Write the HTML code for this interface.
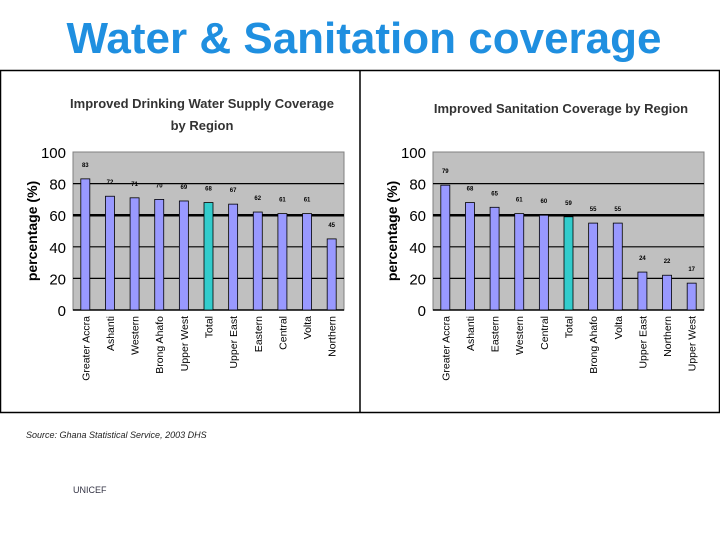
<!DOCTYPE html>
<html><head><meta charset="utf-8"><style>
body{margin:0;background:#fff;width:720px;height:540px;overflow:hidden;font-family:"Liberation Sans",sans-serif}
</style></head><body>
<svg width="720" height="540" xmlns="http://www.w3.org/2000/svg" font-family="Liberation Sans, sans-serif" id="svg">
<text x="364" y="53" text-anchor="middle" font-size="44" font-weight="bold" fill="#1f8fe0">Water &amp; Sanitation coverage</text>
<rect x="0.5" y="70.5" width="719" height="342" fill="#fff" stroke="#000" stroke-width="1.5"/>
<line x1="360" y1="71" x2="360" y2="412" stroke="#000" stroke-width="1.5"/>
<text x="202" y="108" text-anchor="middle" font-size="13" font-weight="bold" fill="#333">Improved Drinking Water Supply Coverage</text>
<text x="202" y="130" text-anchor="middle" font-size="13" font-weight="bold" fill="#333">by Region</text>
<text x="561" y="113" text-anchor="middle" font-size="13" font-weight="bold" fill="#333">Improved Sanitation Coverage by Region</text>
<text x="26" y="438" font-size="9" font-style="italic" fill="#222">Source:  Ghana Statistical Service, 2003 DHS</text>
<text x="73" y="493" font-size="9" fill="#334">UNICEF</text>
<g id="c1"></g><g id="c2"></g>
</svg>
<script>
const ticks=[0,20,40,60,80,100];
const waterCats=["Greater Accra","Ashanti","Western","Brong Ahafo","Upper West","Total","Upper East","Eastern","Central","Volta","Northern"];
const waterVals=[83,72,71,70,69,68,67,62,61,61,45];
const sanCats=["Greater Accra","Ashanti","Eastern","Western","Central","Total","Brong Ahafo","Volta","Upper East","Northern","Upper West"];
const sanVals=[79,68,65,61,60,59,55,55,24,22,17];
const NS="http://www.w3.org/2000/svg";
function mk(g,t,a){const e=document.createElementNS(NS,t);for(const k in a)e.setAttribute(k,a[k]);g.appendChild(e);return e;}
function chart(id,x0,x1,cats,vals,pre){
  const g=document.getElementById(id);const y0=310,yT=152;
  const y=v=>y0-(v/100)*(y0-yT);
  const bg=mk(g,"rect",{x:x0,y:yT,width:x1-x0,height:y0-yT,fill:"#c0c0c0",stroke:"#808080"});
  
  ticks.forEach(t=>{
    if(t>0&&t<100){const l=mk(g,"line",{x1:x0,x2:x1,y1:y(t),y2:y(t),stroke:"#000","stroke-width":t==60?2.5:1.2});
    }
    const tx=mk(g,"text",{x:x0-7,y:y(t)+6,"text-anchor":"end","font-size":"15",fill:"#000"});tx.textContent=t;
    
  });
  const ax=mk(g,"line",{x1:x0,x2:x1,y1:y0,y2:y0,stroke:"#000","stroke-width":1.5});
  
  const yt=mk(g,"text",{x:0,y:0,transform:`translate(${x0-36},${(y0+yT)/2}) rotate(-90)`,"text-anchor":"middle","font-size":"14","font-weight":"bold",fill:"#000"});
  yt.textContent="percentage (%)";
  const w=(x1-x0)/cats.length;
  cats.forEach((c,i)=>{
    const cx=x0+w*(i+0.5);
    const b=mk(g,"rect",{x:cx-4.5,y:y(vals[i]),width:9,height:y0-y(vals[i]),fill:c=="Total"?"#33cccc":"#9999ff",stroke:"#000","stroke-width":0.8});
    
    const v=mk(g,"text",{x:cx,y:y(vals[i])-12,"text-anchor":"middle","font-size":"6","font-weight":"bold",fill:"#000"});v.textContent=vals[i];
    
    const l=mk(g,"text",{x:0,y:0,transform:`translate(${cx+4},${y0+6}) rotate(-90)`,"text-anchor":"end","font-size":"10.5",fill:"#000"});l.textContent=c;
    
  });
}
chart("c1",73,344,waterCats,waterVals,"water");
chart("c2",433,704,sanCats,sanVals,"sanitation");
</script>
</body></html>
